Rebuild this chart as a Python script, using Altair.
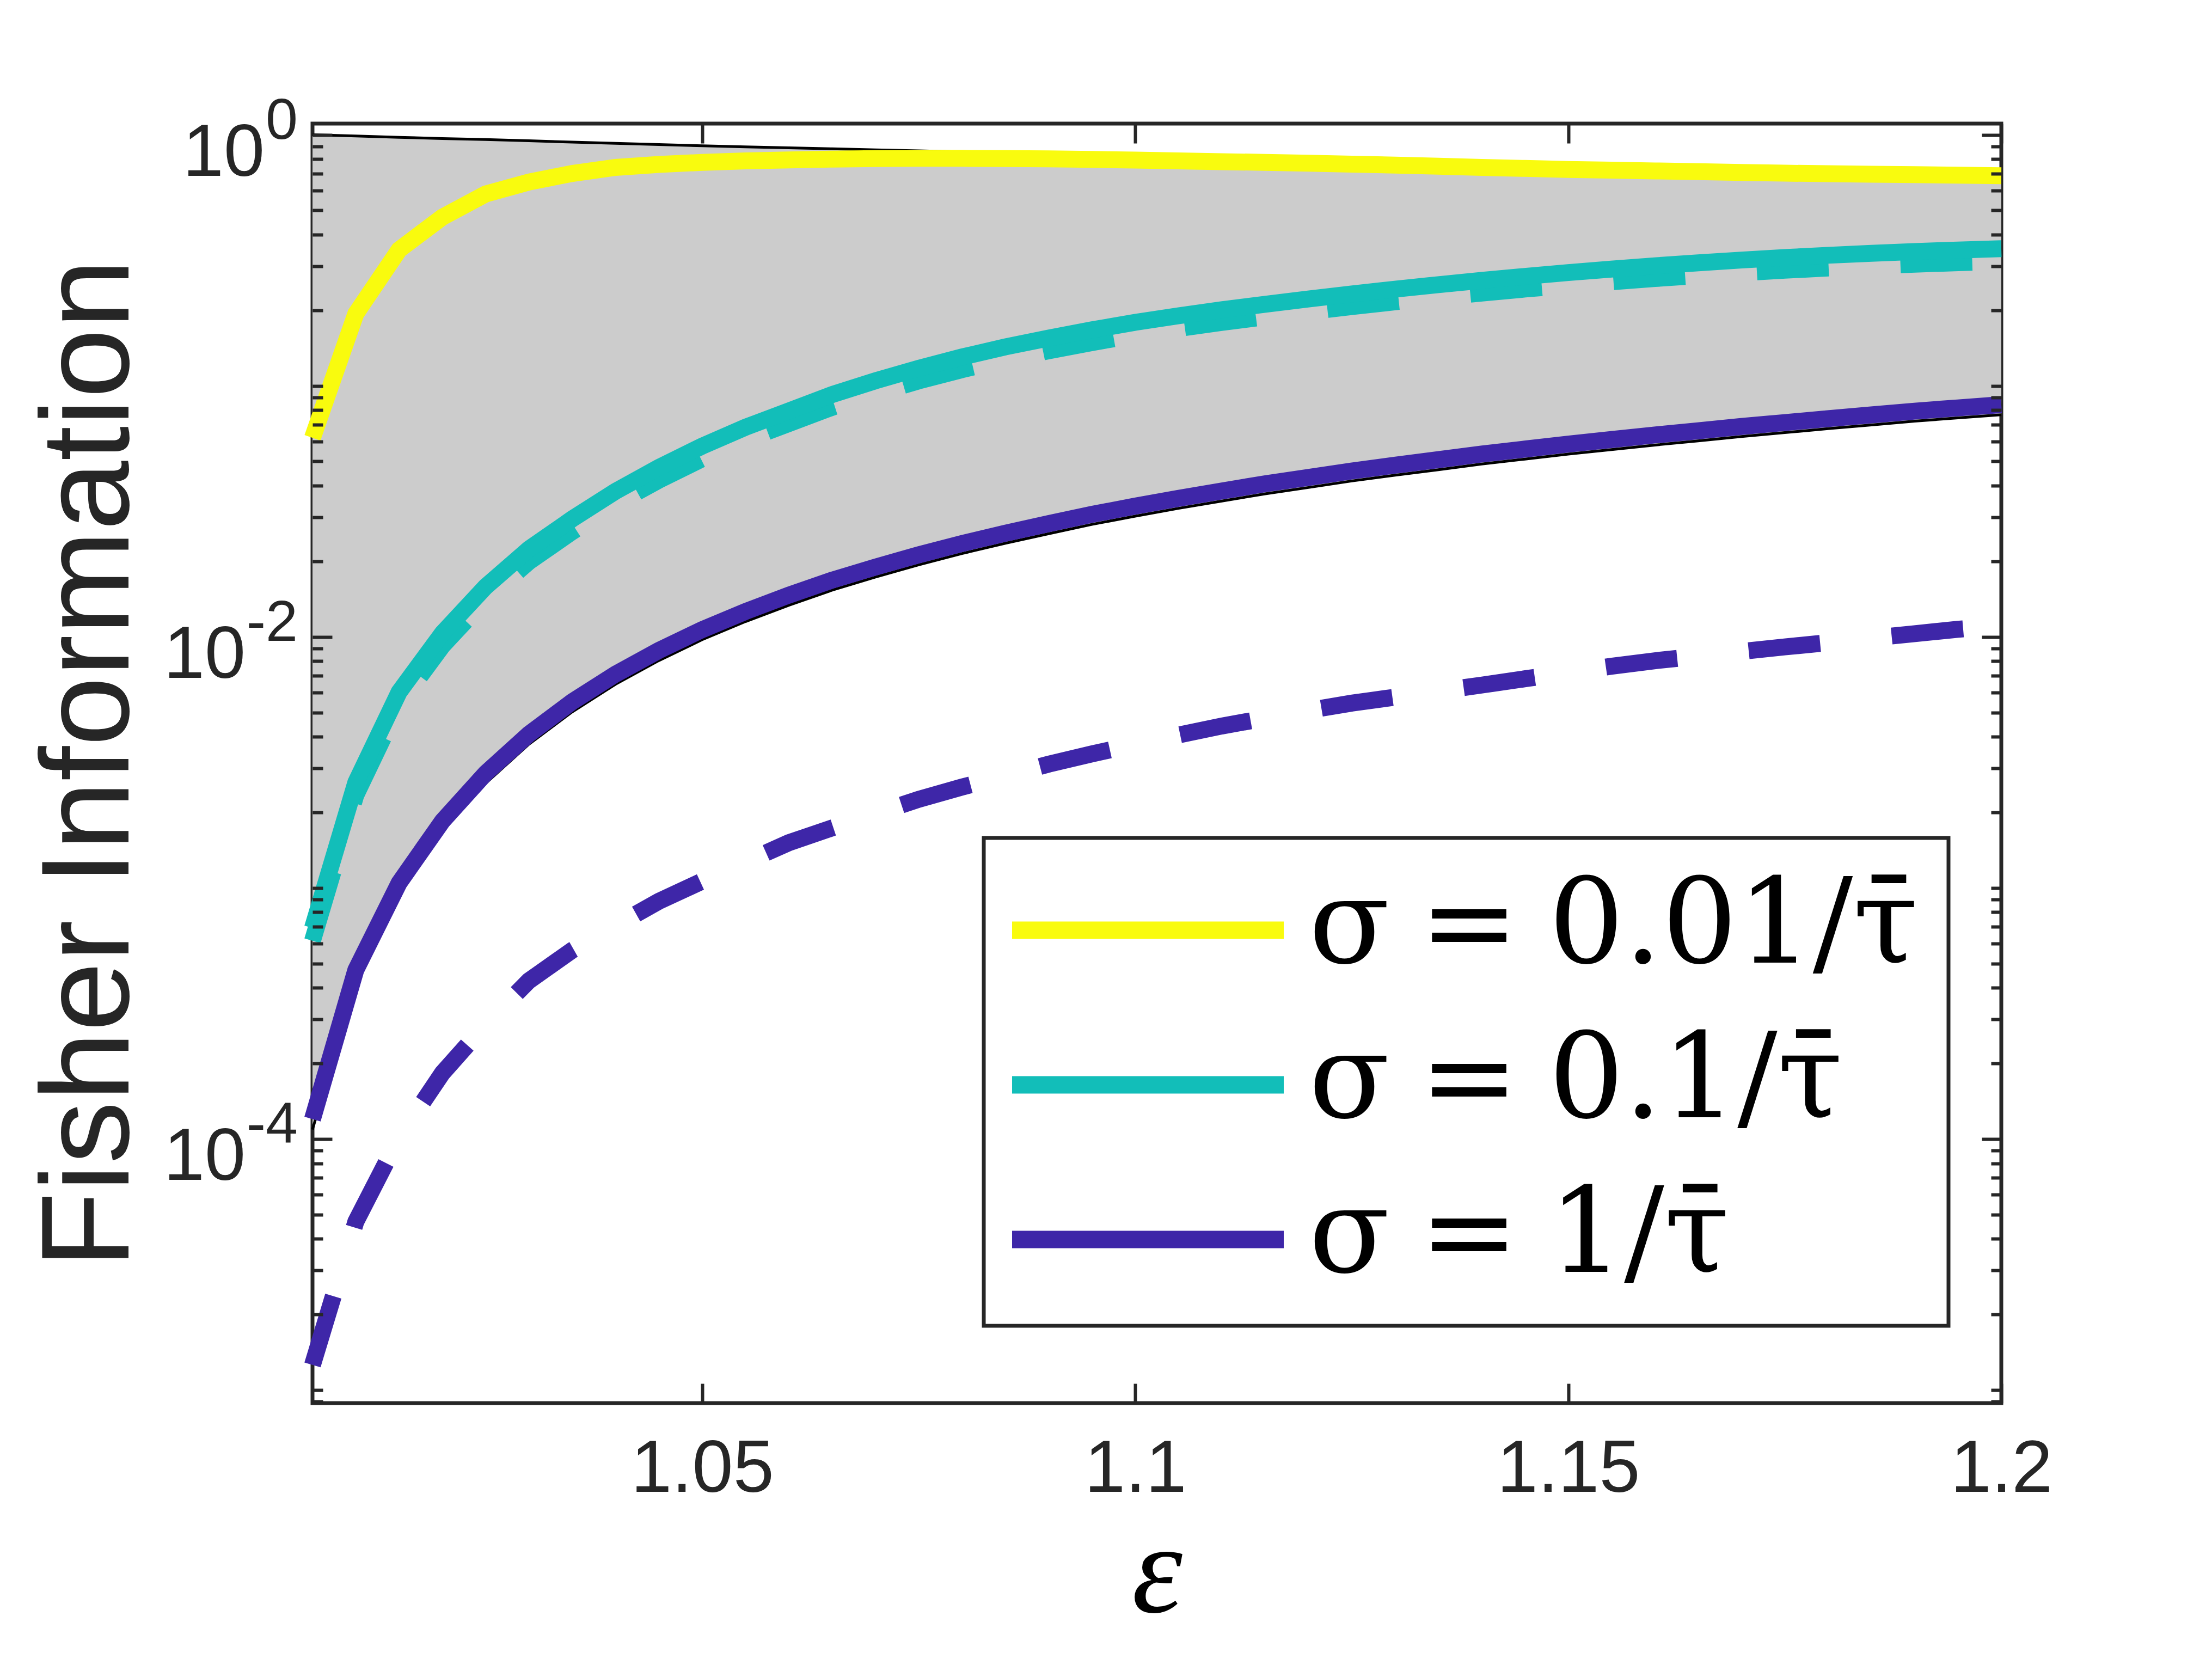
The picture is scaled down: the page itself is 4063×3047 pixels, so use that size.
import altair as alt
import pandas as pd

# ---------------- data ----------------
eps = [1.005, 1.010, 1.015, 1.020, 1.025, 1.030, 1.035, 1.040, 1.045, 1.050,
       1.055, 1.060, 1.065, 1.070, 1.075, 1.080, 1.085, 1.090, 1.095, 1.100,
       1.105, 1.110, 1.115, 1.120, 1.125, 1.130, 1.135, 1.140, 1.145, 1.150,
       1.155, 1.160, 1.165, 1.170, 1.175, 1.180, 1.185, 1.190, 1.195, 1.200]

yellow = [0.0621, 0.1936, 0.3483, 0.4699, 0.5808, 0.6486, 0.7015, 0.7413, 0.7621, 0.7762,
          0.7870, 0.7943, 0.7998, 0.8035, 0.8054, 0.8054, 0.8035, 0.8017, 0.7980, 0.7925,
          0.7870, 0.7816, 0.7762, 0.7709, 0.7638, 0.7568, 0.7499, 0.7413, 0.7345, 0.7278,
          0.7228, 0.7178, 0.7129, 0.7079, 0.7031, 0.6998, 0.6966, 0.6934, 0.6902, 0.6871]

teal = [6.92e-4, 2.63e-3, 6.03e-3, 1.035e-2, 1.585e-2, 2.239e-2, 2.951e-2, 3.802e-2, 4.732e-2, 5.754e-2,
        6.84e-2, 0.0794, 0.0923, 0.1047, 0.1175, 0.1303, 0.1429, 0.1549, 0.1671, 0.1791,
        0.1901, 0.2009, 0.2113, 0.2218, 0.2323, 0.2427, 0.2529, 0.2630, 0.2729, 0.2825,
        0.2917, 0.3006, 0.3090, 0.3170, 0.3243, 0.3311, 0.3373, 0.3428, 0.3475, 0.3516]

teal_dash = [6.16e-4, 2.34e-3, 5.37e-3, 9.21e-3, 1.411e-2, 1.993e-2, 2.626e-2, 3.384e-2, 4.211e-2, 5.121e-2,
             6.09e-2, 0.0707, 0.0821, 0.0932, 0.1046, 0.1160, 0.1272, 0.1379, 0.1487, 0.1594,
             0.1692, 0.1788, 0.1881, 0.1974, 0.2067, 0.2160, 0.2251, 0.2341, 0.2429, 0.2514,
             0.2596, 0.2675, 0.2750, 0.2821, 0.2886, 0.2947, 0.3002, 0.3051, 0.3093, 0.3129]

blue = [1.20e-4, 4.71e-4, 1.047e-3, 1.845e-3, 2.864e-3, 4.10e-3, 5.52e-3, 7.11e-3, 8.83e-3, 1.069e-2,
        1.262e-2, 1.466e-2, 1.683e-2, 1.897e-2, 2.123e-2, 2.355e-2, 2.588e-2, 2.825e-2, 3.076e-2, 3.319e-2,
        3.565e-2, 3.811e-2, 4.074e-2, 4.315e-2, 4.581e-2, 4.83e-2, 5.08e-2, 5.35e-2, 5.60e-2, 5.86e-2,
        6.11e-2, 6.37e-2, 6.62e-2, 6.89e-2, 7.14e-2, 7.40e-2, 7.66e-2, 7.93e-2, 8.17e-2, 8.41e-2]

blue_dash = [1.259e-5, 4.68e-5, 1.016e-4, 1.83e-4, 2.86e-4, 4.27e-4, 5.65e-4, 7.08e-4, 8.85e-4, 1.064e-3,
             1.268e-3, 1.514e-3, 1.734e-3, 1.977e-3, 2.254e-3, 2.523e-3, 2.799e-3, 3.112e-3, 3.420e-3, 3.733e-3,
             4.064e-3, 4.416e-3, 4.742e-3, 5.093e-3, 5.445e-3, 5.754e-3, 6.081e-3, 6.427e-3, 6.808e-3, 7.211e-3,
             7.638e-3, 8.035e-3, 8.375e-3, 8.750e-3, 9.120e-3, 9.484e-3, 9.886e-3, 1.030e-2, 1.072e-2, 1.109e-2]

bound_upper = [1.0, 0.9886, 0.9772, 0.9661, 0.9572, 0.9462, 0.9354, 0.9247, 0.9141, 0.9036,
               0.8954, 0.8872, 0.8790, 0.8710, 0.8630, 0.8551, 0.8472, 0.8395, 0.8318, 0.8241,
               0.8166, 0.8091, 0.8017, 0.7943, 0.7870, 0.7798, 0.7727, 0.7656, 0.7586, 0.7516,
               0.7447, 0.7379, 0.7311, 0.7244, 0.7178, 0.7112, 0.7047, 0.6982, 0.6918, 0.6855]

bound_lower = [1.09e-4, 4.30e-4, 9.55e-4, 1.683e-3, 2.612e-3, 3.74e-3, 5.03e-3, 6.48e-3, 8.05e-3, 9.75e-3,
               1.151e-2, 1.337e-2, 1.535e-2, 1.730e-2, 1.936e-2, 2.148e-2, 2.360e-2, 2.576e-2, 2.805e-2, 3.027e-2,
               3.251e-2, 3.476e-2, 3.715e-2, 3.935e-2, 4.178e-2, 4.405e-2, 4.633e-2, 4.879e-2, 5.107e-2, 5.344e-2,
               5.572e-2, 5.809e-2, 6.037e-2, 6.284e-2, 6.512e-2, 6.749e-2, 6.986e-2, 7.232e-2, 7.451e-2, 7.670e-2]

series_labels = ["σ\u2005=\u20050.01/τ̄", "σ\u2005=\u20050.1/τ̄", "σ\u2005=\u20051/τ̄"]
series_colors = ["#F9FB0E", "#12BEB9", "#3E26A8"]

x_ticks = [1.05, 1.1, 1.15, 1.2]
y_major = [1.0, 0.01, 0.0001]
y_major_exp = ["0", "-2", "-4"]
y_minor = [float(f"{k}e{n}") for n in range(-6, 0) for k in range(1, 10)
           if float(f"{k}e{n}") not in (0.01, 0.0001)]

X_DOMAIN = [1.005, 1.2]
Y_DOMAIN = [8.87e-6, 1.108]

# ---------------- tables ----------------
band = pd.DataFrame({"eps": eps, "upper": bound_upper, "lower": bound_lower})

solid = pd.concat([
    pd.DataFrame({"eps": eps, "F": vals, "series": lab})
    for vals, lab in zip([yellow, teal, blue], series_labels)
])
dashed = pd.concat([
    pd.DataFrame({"eps": eps, "F": teal_dash, "key": "teal", "col": series_colors[1]}),
    pd.DataFrame({"eps": eps, "F": blue_dash, "key": "blue", "col": series_colors[2]}),
])
ylab = pd.DataFrame({"v": y_major, "exp": y_major_exp, "base": ["10"] * 3})

# ---------------- scales & axes ----------------
AX = "#262626"
W, H = 3102, 2350
xs = alt.Scale(domain=X_DOMAIN, nice=False, zero=False)
ys = alt.Scale(type="log", domain=Y_DOMAIN, nice=False)

is_major = "datum.value == 1 || datum.value == 0.01 || datum.value == 0.0001"
ydash = {"condition": {"test": is_major, "value": [36, 1]}, "value": [0, 17, 19]}

ax_bottom = alt.Axis(
    orient="bottom", values=x_ticks, offset=-36, tickSize=36, tickWidth=6, tickColor=AX,
    domain=False, grid=False, labelFont="Liberation Sans", labelFontSize=135,
    labelColor=AX, labelPadding=162, labelBaseline="alphabetic", labelFlush=False,
    labelOverlap=False, labelLimit=0, format=".2~f", title="ε", titleFont="Liberation Serif",
    titleFontStyle="italic", titleFontWeight="normal", titleFontSize=236, titleColor="black",
    titleX=W / 2, titleY=419, titleAlign="center", titleBaseline="alphabetic", zindex=1)
ax_top = alt.Axis(
    orient="top", values=x_ticks, offset=-36, tickSize=36, tickWidth=6, tickColor=AX,
    domain=False, grid=False, labels=False, title=None, zindex=1)
ax_left = alt.Axis(
    orient="left", values=y_major + y_minor, offset=-36, tickSize=36, tickWidth=6,
    tickColor=AX, tickDash=ydash, domain=False, grid=False, labels=False,
    title="Fisher Information", titleFont="Liberation Sans", titleFontSize=230,
    titleFontWeight="normal", titleColor=AX, titleAngle=270, titleX=-375, titleY=H / 2,
    titleAlign="center", titleBaseline="alphabetic", zindex=1)
ax_right = alt.Axis(
    orient="right", values=y_major + y_minor, offset=-36, tickSize=36, tickWidth=6,
    tickColor=AX, tickDash=ydash, domain=False, grid=False, labels=False, title=None,
    zindex=1)

# ---------------- layers ----------------
area = alt.Chart(band).mark_area(color="#CCCCCC").encode(
    x=alt.X("eps:Q", scale=xs, axis=ax_bottom),
    y=alt.Y("upper:Q", scale=ys, axis=ax_left, stack=None),
    y2="lower:Q",
)
up_line = alt.Chart(band).mark_line(color="black", strokeWidth=5).encode(
    x=alt.X("eps:Q", scale=xs, axis=ax_top),
    y=alt.Y("upper:Q", scale=ys, axis=ax_right),
)
low_line = alt.Chart(band).mark_line(color="black", strokeWidth=5).encode(
    x=alt.X("eps:Q", scale=xs, axis=None),
    y=alt.Y("lower:Q", scale=ys, axis=None),
)
dash_lines = alt.Chart(dashed).mark_line(strokeWidth=31, strokeDash=[132, 132]).encode(
    x=alt.X("eps:Q", scale=xs, axis=None),
    y=alt.Y("F:Q", scale=ys, axis=None),
    color=alt.Color("col:N", scale=None),
    detail="key:N",
)
legend = alt.Legend(
    orient="none", legendX=1233, legendY=1312, direction="vertical", title=None,
    symbolType="M -2.24,0.11 L 7.74,0.11", symbolSize=10000, symbolStrokeWidth=32,
    symbolOffset=0, labelFont="DejaVu Serif", labelFontSize=218, labelColor="black",
    labelOffset=324, labelLimit=0, rowPadding=66, padding=55, strokeColor=AX,
    fillColor="white",
)
solid_lines = alt.Chart(solid).mark_line(strokeWidth=31).encode(
    x=alt.X("eps:Q", scale=xs, axis=None),
    y=alt.Y("F:Q", scale=ys, axis=None),
    color=alt.Color("series:N", scale=alt.Scale(domain=series_labels, range=series_colors),
                    sort=series_labels, legend=legend),
)
exp_text = alt.Chart(ylab).mark_text(
    align="right", baseline="alphabetic", dx=-27, dy=7, font="Liberation Sans",
    fontSize=106, color=AX).encode(
    x=alt.value(0), y=alt.Y("v:Q", scale=ys, axis=None), text="exp:N")
base0_text = alt.Chart(ylab).transform_filter("datum.exp == '0'").mark_text(
    align="right", baseline="alphabetic", dx=-88, dy=75, font="Liberation Sans",
    fontSize=135, color=AX).encode(
    x=alt.value(0), y=alt.Y("v:Q", scale=ys, axis=None), text="base:N")
base_text = alt.Chart(ylab).transform_filter("datum.exp != '0'").mark_text(
    align="right", baseline="alphabetic", dx=-123, dy=75, font="Liberation Sans",
    fontSize=135, color=AX).encode(
    x=alt.value(0), y=alt.Y("v:Q", scale=ys, axis=None), text="base:N")

chart = alt.layer(
    area, up_line, low_line, dash_lines, solid_lines, exp_text, base0_text, base_text
).resolve_scale(
    x="independent", y="independent"
).properties(
    width=W, height=H,
    padding={"left": 566, "top": 219, "right": 379, "bottom": 462},
    autosize=alt.AutoSizeParams(type="none"),
    background="white",
).configure_view(
    stroke=AX, strokeWidth=7
).configure_legend(
    strokeWidth=7
)

chart.save("out.html", embed_options={"renderer": "svg", "actions": False})
